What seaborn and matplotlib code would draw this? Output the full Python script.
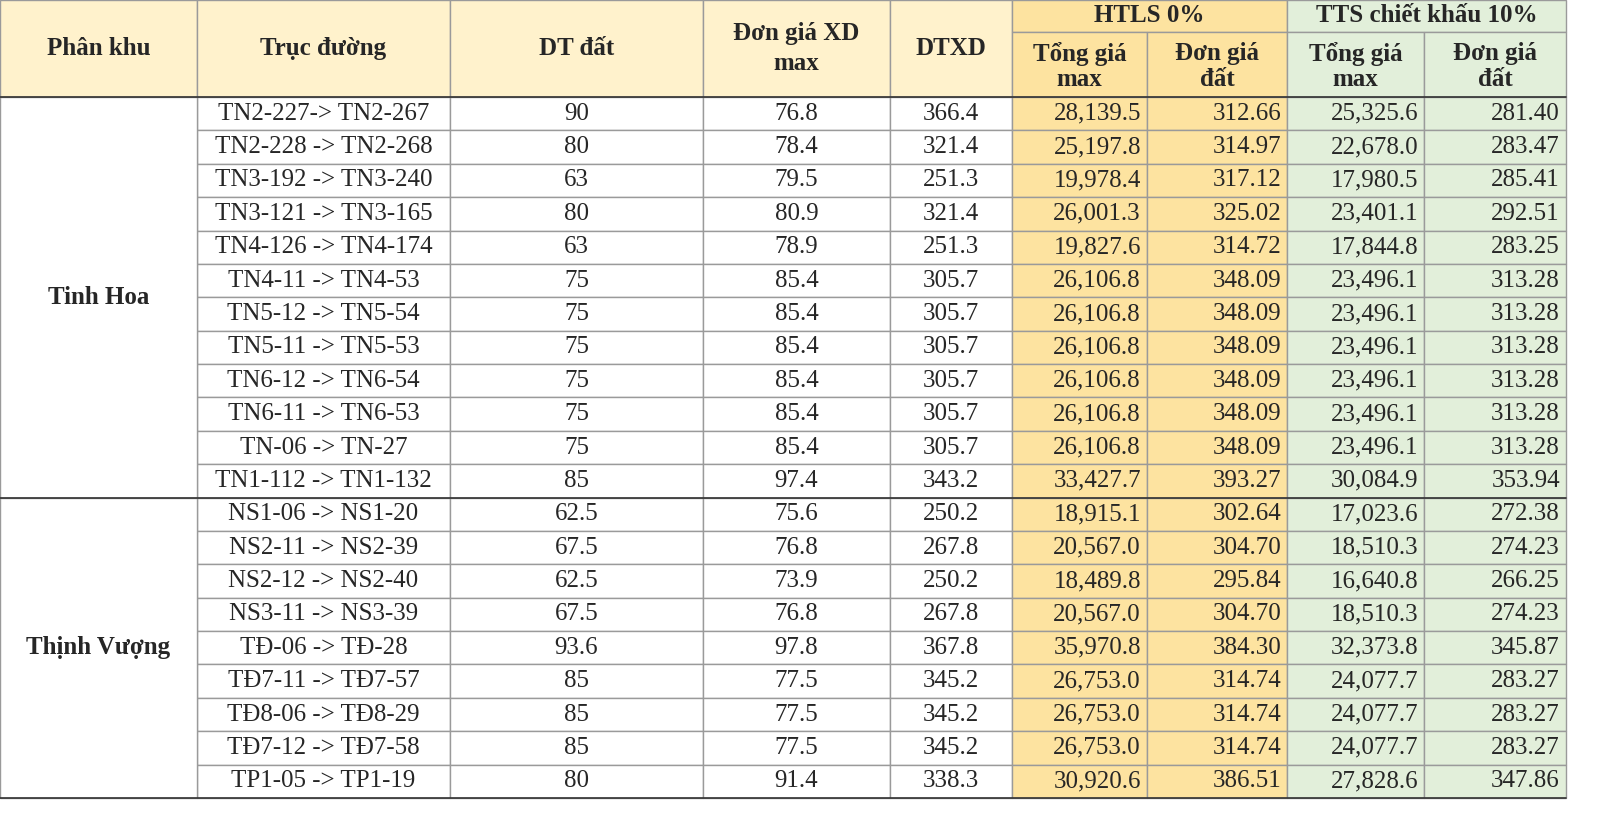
import matplotlib
matplotlib.use("Agg")
import matplotlib.pyplot as plt
from matplotlib.patches import Rectangle
import seaborn as sns

sns.set_theme(style="white")
plt.rcParams["font.family"] = "Liberation Serif"

zones = ["Tinh Hoa", "Thịnh Vượng"]
zone_sizes = [12, 9]
roads = ["TN2-227-> TN2-267", "TN2-228 -> TN2-268", "TN3-192 -> TN3-240", "TN3-121 -> TN3-165",
         "TN4-126 -> TN4-174", "TN4-11 -> TN4-53", "TN5-12 -> TN5-54", "TN5-11 -> TN5-53",
         "TN6-12 -> TN6-54", "TN6-11 -> TN6-53", "TN-06 -> TN-27", "TN1-112 -> TN1-132",
         "NS1-06 -> NS1-20", "NS2-11 -> NS2-39", "NS2-12 -> NS2-40", "NS3-11 -> NS3-39",
         "TĐ-06 -> TĐ-28", "TĐ7-11 -> TĐ7-57", "TĐ8-06 -> TĐ8-29", "TĐ7-12 -> TĐ7-58",
         "TP1-05 -> TP1-19"]
dt_dat = ["90", "80", "63", "80", "63", "75", "75", "75", "75", "75", "75", "85",
          "62.5", "67.5", "62.5", "67.5", "93.6", "85", "85", "85", "80"]
don_gia_xd = [76.8, 78.4, 79.5, 80.9, 78.9, 85.4, 85.4, 85.4, 85.4, 85.4, 85.4, 97.4,
              75.6, 76.8, 73.9, 76.8, 97.8, 77.5, 77.5, 77.5, 91.4]
dtxd = [366.4, 321.4, 251.3, 321.4, 251.3, 305.7, 305.7, 305.7, 305.7, 305.7, 305.7, 343.2,
        250.2, 267.8, 250.2, 267.8, 367.8, 345.2, 345.2, 345.2, 338.3]
htls_tong = [28139.5, 25197.8, 19978.4, 26001.3, 19827.6, 26106.8, 26106.8, 26106.8, 26106.8,
             26106.8, 26106.8, 33427.7, 18915.1, 20567.0, 18489.8, 20567.0, 35970.8, 26753.0,
             26753.0, 26753.0, 30920.6]
htls_dg = [312.66, 314.97, 317.12, 325.02, 314.72, 348.09, 348.09, 348.09, 348.09, 348.09,
           348.09, 393.27, 302.64, 304.70, 295.84, 304.70, 384.30, 314.74, 314.74, 314.74, 386.51]
tts_tong = [25325.6, 22678.0, 17980.5, 23401.1, 17844.8, 23496.1, 23496.1, 23496.1, 23496.1,
            23496.1, 23496.1, 30084.9, 17023.6, 18510.3, 16640.8, 18510.3, 32373.8, 24077.7,
            24077.7, 24077.7, 27828.6]
tts_dg = [281.40, 283.47, 285.41, 292.51, 283.25, 313.28, 313.28, 313.28, 313.28, 313.28,
          313.28, 353.94, 272.38, 274.23, 266.25, 274.23, 345.87, 283.27, 283.27, 283.27, 347.86]

# pixel layout
cols = [0, 197, 450, 703, 890, 1012, 1147, 1287, 1424, 1566]
head_top, head_mid, head_bot = 0, 32, 97
row_h = (798 - head_bot) / len(roads)
HEAD = "#FFF2CC"
GOLD = "#FDE3A0"
GREEN = "#E2EFDA"
LINE = "#9A9A9A"
FS = 18

fig = plt.figure(figsize=(16, 8.15), dpi=100)
ax = fig.add_axes([0, 0, 1, 1])
ax.set_xlim(0, 1600)
ax.set_ylim(815, 0)
ax.axis("off")


def cell(x0, x1, y0, y1, fc, ec=LINE, lw=1):
    ax.add_patch(Rectangle((x0, y0), x1 - x0, y1 - y0, facecolor=fc, edgecolor=ec, linewidth=lw))


# header
for i in range(5):
    cell(cols[i], cols[i + 1], head_top, head_bot, HEAD)
    ax.text((cols[i] + cols[i + 1]) / 2, (head_top + head_bot) / 2,
            ["Phân khu", "Trục đường", "DT đất", "Đơn giá XD\nmax", "DTXD"][i],
            ha="center", va="center", fontsize=FS, fontweight="bold", linespacing=1.4)
cell(cols[5], cols[7], head_top, head_mid, GOLD)
cell(cols[7], cols[9], head_top, head_mid, GREEN)
ax.text((cols[5] + cols[7]) / 2, head_mid / 2, "HTLS 0%", ha="center", va="center",
        fontsize=FS, fontweight="bold")
ax.text((cols[7] + cols[9]) / 2, head_mid / 2, "TTS chiết khấu 10%", ha="center", va="center",
        fontsize=FS, fontweight="bold")
for i, lab in zip(range(5, 9), ["Tổng giá\nmax", "Đơn giá\nđất"] * 2):
    cell(cols[i], cols[i + 1], head_mid, head_bot, GOLD if i < 7 else GREEN)
    ax.text((cols[i] + cols[i + 1]) / 2, (head_mid + head_bot) / 2 + 2, lab, ha="center",
            va="center", fontsize=FS, fontweight="bold", linespacing=1.15)

# body rows
for r, road in enumerate(roads):
    y0 = head_bot + r * row_h
    y1 = y0 + row_h
    yc = (y0 + y1) / 2
    vals = [road, dt_dat[r], f"{don_gia_xd[r]:.1f}", f"{dtxd[r]:.1f}",
            f"{htls_tong[r]:,.1f}", f"{htls_dg[r]:.2f}", f"{tts_tong[r]:,.1f}", f"{tts_dg[r]:.2f}"]
    for c, v in enumerate(vals):
        x0, x1 = cols[c + 1], cols[c + 2]
        fc = "white" if c < 4 else (GOLD if c < 6 else GREEN)
        cell(x0, x1, y0, y1, fc)
        if c < 4:
            ax.text((x0 + x1) / 2, yc, v, ha="center", va="center", fontsize=FS)
        else:
            ax.text(x1 - 6, yc, v, ha="right", va="center", fontsize=FS)

# zone column
start = 0
for zone, n in zip(zones, zone_sizes):
    y0 = head_bot + start * row_h
    y1 = y0 + n * row_h
    cell(cols[0], cols[1], y0, y1, "white")
    ax.text((cols[0] + cols[1]) / 2, (y0 + y1) / 2, zone, ha="center", va="center",
            fontsize=FS, fontweight="bold")
    ax.plot([cols[0], cols[-1]], [y0, y0], color="#333333", lw=1.2)
    start += n
ax.plot([cols[0], cols[-1]], [798, 798], color="#333333", lw=1.2)

fig.savefig("out.png", dpi=100, facecolor="white")
